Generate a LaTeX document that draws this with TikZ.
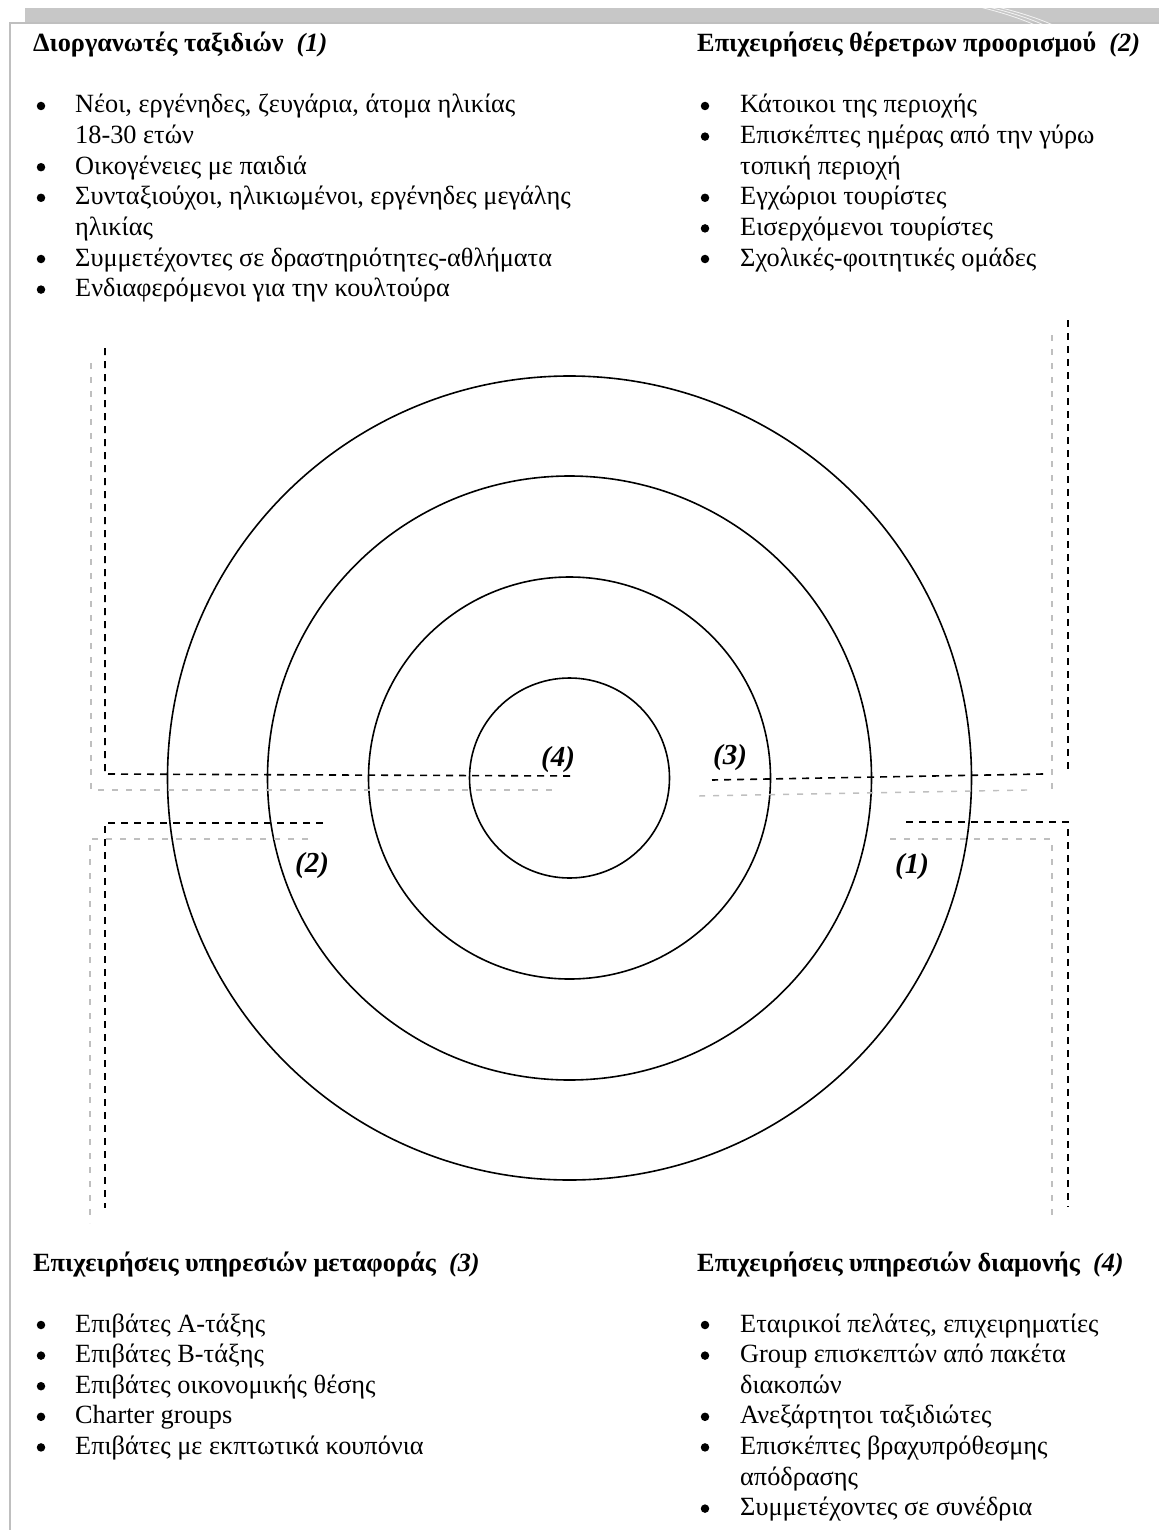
\documentclass[tikz,border=0pt]{standalone}
\usepackage{fontspec}
\setmainfont{Liberation Serif}
\begin{document}
\begin{tikzpicture}[x=1pt,y=-1pt,
  body/.style={anchor=base west, inner sep=0pt, font=\fontsize{26.3}{30.6}\selectfont},
  head/.style={anchor=base west, inner sep=0pt, font=\fontsize{26.3}{30.6}\selectfont\bfseries},
  ringlabel/.style={inner sep=0pt, font=\fontsize{29}{32}\selectfont\bfseries\itshape},
  ring/.style={circle, draw=black, line width=1.6pt, inner sep=0pt},
  blackdash/.style={draw=black, line width=1.6pt, dash pattern=on 7pt off 6pt},
  greydash/.style={draw=black!25, line width=1.4pt, dash pattern=on 6pt off 8pt},
  dot/.style={circle, fill=black, inner sep=0pt, minimum size=8.5pt}
]
\useasboundingbox (0,0) rectangle (1159,1530);

% page frame with shaded top band
\fill[black!22] (25,8) rectangle (1159,23);
\draw[black!25, line width=1.5pt] (10,1530) -- (10,23) -- (1159,23);
\foreach \s in {0,9,18}
  \draw[white, line width=0.8pt, opacity=0.8] (950+\s,0) .. controls (985+\s,8) and (1010+\s,14) .. (1035+\s,25);

% headings
\node[head] (h1) at (33,52) {Διοργανωτές ταξιδιών\ \ \textit{(1)}};
\node[head] (h2) at (697,52) {Επιχειρήσεις θέρετρων προορισμού\ \ \textit{(2)}};
\node[head] (h3) at (33,1271) {Επιχειρήσεις υπηρεσιών μεταφοράς\ \ \textit{(3)}};
\node[head] (h4) at (697,1271) {Επιχειρήσεις υπηρεσιών διαμονής\ \ \textit{(4)}};

% list of group (1)
\node[dot] (b11) at (41,106) {};
\node[body] (t11) at (75,113) {Νέοι, εργένηδες, ζευγάρια, άτομα ηλικίας};
\node[body] (t11b) at (75,143.6) {18-30 ετών};
\node[dot] (b12) at (41,167.2) {};
\node[body] (t12) at (75,174.2) {Οικογένειες με παιδιά};
\node[dot] (b13) at (41,197.8) {};
\node[body] (t13) at (75,204.8) {Συνταξιούχοι, ηλικιωμένοι, εργένηδες μεγάλης};
\node[body] (t13b) at (75,235.4) {ηλικίας};
\node[dot] (b14) at (41,259) {};
\node[body] (t14) at (75,266) {Συμμετέχοντες σε δραστηριότητες-αθλήματα};
\node[dot] (b15) at (41,289.6) {};
\node[body] (t15) at (75,296.6) {Ενδιαφερόμενοι για την κουλτούρα};

% list of group (2)
\node[dot] (b21) at (705,106) {};
\node[body] (t21) at (740,113) {Κάτοικοι της περιοχής};
\node[dot] (b22) at (705,136.6) {};
\node[body] (t22) at (740,143.6) {Επισκέπτες ημέρας από την γύρω};
\node[body] (t22b) at (740,174.2) {τοπική περιοχή};
\node[dot] (b23) at (705,197.8) {};
\node[body] (t23) at (740,204.8) {Εγχώριοι τουρίστες};
\node[dot] (b24) at (705,228.4) {};
\node[body] (t24) at (740,235.4) {Εισερχόμενοι τουρίστες};
\node[dot] (b25) at (705,259) {};
\node[body] (t25) at (740,266) {Σχολικές-φοιτητικές ομάδες};

% list of group (3)
\node[dot] (b31) at (41,1325) {};
\node[body] (t31) at (75,1332) {Επιβάτες Α-τάξης};
\node[dot] (b32) at (41,1355.6) {};
\node[body] (t32) at (75,1362.6) {Επιβάτες Β-τάξης};
\node[dot] (b33) at (41,1386.2) {};
\node[body] (t33) at (75,1393.2) {Επιβάτες οικονομικής θέσης};
\node[dot] (b34) at (41,1416.8) {};
\node[body] (t34) at (75,1423.8) {Charter groups};
\node[dot] (b35) at (41,1447.4) {};
\node[body] (t35) at (75,1454.4) {Επιβάτες με εκπτωτικά κουπόνια};

% list of group (4)
\node[dot] (b41) at (705,1325) {};
\node[body] (t41) at (740,1332) {Εταιρικοί πελάτες, επιχειρηματίες};
\node[dot] (b42) at (705,1355.6) {};
\node[body] (t42) at (740,1362.6) {Group επισκεπτών από πακέτα};
\node[body] (t42b) at (740,1393.2) {διακοπών};
\node[dot] (b43) at (705,1416.8) {};
\node[body] (t43) at (740,1423.8) {Ανεξάρτητοι ταξιδιώτες};
\node[dot] (b44) at (705,1447.4) {};
\node[body] (t44) at (740,1454.4) {Επισκέπτες βραχυπρόθεσμης};
\node[body] (t44b) at (740,1485) {απόδρασης};
\node[dot] (b45) at (705,1508.6) {};
\node[body] (t45) at (740,1515.6) {Συμμετέχοντες σε συνέδρια};

% concentric rings
\coordinate (c) at (569.5,778);
\node[ring, minimum size=804pt] (ring1) at (c) {};
\node[ring, minimum size=604pt] (ring2) at (c) {};
\node[ring, minimum size=402pt] (ring3) at (c) {};
\node[ring, minimum size=200pt] (ring4) at (c) {};

% quadrant outlines: upper left
\draw[greydash] (91,363) -- (91,790) -- (555,790);
\draw[blackdash] (105,348) -- (105,774) -- (571,776);
% upper right
\draw[greydash] (1052,335) -- (1052,790);
\draw[greydash] (1027,790) -- (697,796);
\draw[blackdash] (1068,320) -- (1068,775);
\draw[blackdash] (1043,774) -- (712,780);
% lower left
\draw[greydash] (308,839) -- (90,839) -- (90,1223);
\draw[blackdash] (323,823) -- (105,823) -- (105,1208);
% lower right
\draw[greydash] (890,839) -- (1052,839) -- (1052,1222);
\draw[blackdash] (906,822) -- (1068,822) -- (1068,1207);

% ring labels
\node[ringlabel] (l4) at (558,760) {(4)};
\node[ringlabel] (l3) at (730,758) {(3)};
\node[ringlabel] (l2) at (312,866) {(2)};
\node[ringlabel] (l1) at (912,867) {(1)};
\end{tikzpicture}
\end{document}
